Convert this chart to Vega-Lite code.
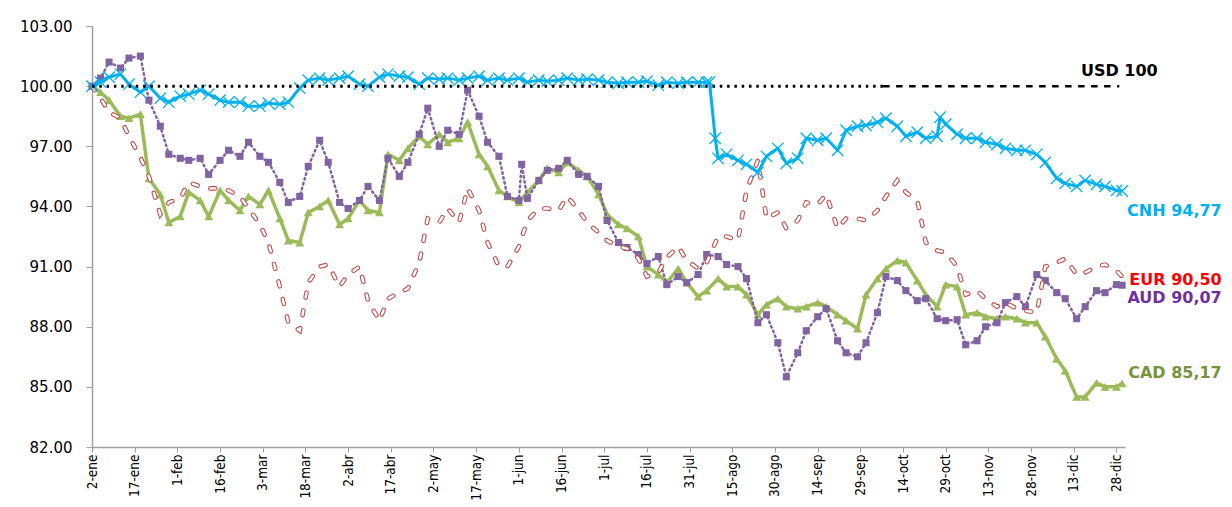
{
  "$schema": "https://vega.github.io/schema/vega-lite/v6.json",
  "autosize": "none",
  "width": 1033,
  "height": 421,
  "padding": {"left": 92, "top": 26, "right": 107, "bottom": 60},
  "background": "white",
  "config": {"view": {"stroke": null}, "axis": {"grid": false}},
  "data": {"values": [
    {"d":"2015-01-02","CNH":100,"EUR":100,"AUD":100,"CAD":100},
    {"d":"2015-01-05","CNH":100.2,"EUR":99.4,"AUD":100.4,"CAD":99.7},
    {"d":"2015-01-08","CNH":100.45,"EUR":98.7,"AUD":101.2,"CAD":99.3},
    {"d":"2015-01-12","CNH":100.6,"EUR":98.4,"AUD":100.9,"CAD":98.5},
    {"d":"2015-01-15","CNH":100.1,"EUR":97.5,"AUD":101.4,"CAD":98.4},
    {"d":"2015-01-19","CNH":99.7,"EUR":96.45,"AUD":101.5,"CAD":98.6},
    {"d":"2015-01-22","CNH":100.0,"EUR":95.5,"AUD":99.3,"CAD":95.4},
    {"d":"2015-01-26","CNH":99.4,"EUR":93.6,"AUD":98.0,"CAD":94.6},
    {"d":"2015-01-29","CNH":99.2,"EUR":94.2,"AUD":96.6,"CAD":93.2},
    {"d":"2015-02-02","CNH":99.5,"EUR":94.4,"AUD":96.4,"CAD":93.5},
    {"d":"2015-02-05","CNH":99.6,"EUR":95.2,"AUD":96.3,"CAD":94.7},
    {"d":"2015-02-09","CNH":99.8,"EUR":95.0,"AUD":96.4,"CAD":94.3},
    {"d":"2015-02-12","CNH":99.6,"EUR":94.9,"AUD":95.6,"CAD":93.5},
    {"d":"2015-02-16","CNH":99.3,"EUR":94.9,"AUD":96.3,"CAD":94.8},
    {"d":"2015-02-19","CNH":99.2,"EUR":94.8,"AUD":96.8,"CAD":94.3},
    {"d":"2015-02-23","CNH":99.2,"EUR":94.5,"AUD":96.5,"CAD":93.8},
    {"d":"2015-02-26","CNH":99.0,"EUR":93.9,"AUD":97.2,"CAD":94.5},
    {"d":"2015-03-02","CNH":99.0,"EUR":93.1,"AUD":96.5,"CAD":94.1},
    {"d":"2015-03-05","CNH":99.15,"EUR":92.2,"AUD":96.2,"CAD":94.8},
    {"d":"2015-03-09","CNH":99.1,"EUR":90.0,"AUD":95.2,"CAD":93.4},
    {"d":"2015-03-12","CNH":99.2,"EUR":88.2,"AUD":94.2,"CAD":92.3},
    {"d":"2015-03-16","CNH":99.9,"EUR":87.8,"AUD":94.5,"CAD":92.2},
    {"d":"2015-03-19","CNH":100.3,"EUR":90.2,"AUD":96.0,"CAD":93.7},
    {"d":"2015-03-23","CNH":100.4,"EUR":91.0,"AUD":97.3,"CAD":94.0},
    {"d":"2015-03-26","CNH":100.3,"EUR":91.1,"AUD":96.2,"CAD":94.3},
    {"d":"2015-03-30","CNH":100.4,"EUR":90.0,"AUD":94.2,"CAD":93.1},
    {"d":"2015-04-02","CNH":100.5,"EUR":90.6,"AUD":93.9,"CAD":93.4},
    {"d":"2015-04-06","CNH":100.1,"EUR":91.0,"AUD":94.3,"CAD":94.3},
    {"d":"2015-04-09","CNH":100.0,"EUR":89.3,"AUD":95.0,"CAD":93.8},
    {"d":"2015-04-13","CNH":100.45,"EUR":88.3,"AUD":94.3,"CAD":93.7},
    {"d":"2015-04-16","CNH":100.6,"EUR":89.4,"AUD":96.4,"CAD":96.6},
    {"d":"2015-04-20","CNH":100.5,"EUR":89.7,"AUD":95.5,"CAD":96.3},
    {"d":"2015-04-23","CNH":100.45,"EUR":89.9,"AUD":96.2,"CAD":96.9},
    {"d":"2015-04-27","CNH":100.1,"EUR":91.2,"AUD":97.6,"CAD":97.5},
    {"d":"2015-04-30","CNH":100.4,"EUR":93.4,"AUD":98.9,"CAD":97.1},
    {"d":"2015-05-04","CNH":100.35,"EUR":93.2,"AUD":97.0,"CAD":97.6},
    {"d":"2015-05-07","CNH":100.4,"EUR":93.9,"AUD":97.8,"CAD":97.2},
    {"d":"2015-05-11","CNH":100.3,"EUR":93.2,"AUD":97.6,"CAD":97.4},
    {"d":"2015-05-14","CNH":100.4,"EUR":94.9,"AUD":99.8,"CAD":98.2},
    {"d":"2015-05-18","CNH":100.5,"EUR":93.8,"AUD":98.5,"CAD":96.6},
    {"d":"2015-05-21","CNH":100.3,"EUR":92.2,"AUD":97.2,"CAD":96.0},
    {"d":"2015-05-25","CNH":100.4,"EUR":91.0,"AUD":96.5,"CAD":94.8},
    {"d":"2015-05-28","CNH":100.3,"EUR":91.0,"AUD":94.5,"CAD":94.5},
    {"d":"2015-06-01","CNH":100.4,"EUR":92.0,"AUD":94.3,"CAD":94.2},
    {"d":"2015-06-02","CNH":null,"EUR":null,"AUD":96.1,"CAD":null},
    {"d":"2015-06-04","CNH":100.2,"EUR":93.3,"AUD":94.4,"CAD":94.7},
    {"d":"2015-06-08","CNH":100.3,"EUR":93.9,"AUD":95.3,"CAD":95.3},
    {"d":"2015-06-11","CNH":100.25,"EUR":93.9,"AUD":95.8,"CAD":95.9},
    {"d":"2015-06-15","CNH":100.3,"EUR":93.8,"AUD":95.9,"CAD":95.7},
    {"d":"2015-06-18","CNH":100.4,"EUR":94.5,"AUD":96.3,"CAD":96.2},
    {"d":"2015-06-22","CNH":100.3,"EUR":93.8,"AUD":95.6,"CAD":95.8},
    {"d":"2015-06-25","CNH":100.35,"EUR":93.2,"AUD":95.5,"CAD":95.5},
    {"d":"2015-06-29","CNH":100.3,"EUR":92.7,"AUD":95.0,"CAD":94.6},
    {"d":"2015-07-02","CNH":100.2,"EUR":92.3,"AUD":93.3,"CAD":93.6},
    {"d":"2015-07-06","CNH":100.15,"EUR":92.0,"AUD":92.2,"CAD":93.1},
    {"d":"2015-07-09","CNH":100.2,"EUR":91.9,"AUD":91.95,"CAD":92.9},
    {"d":"2015-07-13","CNH":100.2,"EUR":91.4,"AUD":91.6,"CAD":92.5},
    {"d":"2015-07-16","CNH":100.25,"EUR":90.5,"AUD":91.15,"CAD":91.0},
    {"d":"2015-07-20","CNH":100.05,"EUR":90.7,"AUD":91.5,"CAD":90.6},
    {"d":"2015-07-23","CNH":100.2,"EUR":91.45,"AUD":90.1,"CAD":90.2},
    {"d":"2015-07-27","CNH":100.15,"EUR":92.0,"AUD":90.5,"CAD":90.9},
    {"d":"2015-07-30","CNH":100.2,"EUR":91.3,"AUD":90.2,"CAD":90.2},
    {"d":"2015-08-03","CNH":100.2,"EUR":90.9,"AUD":90.6,"CAD":89.5},
    {"d":"2015-08-06","CNH":100.2,"EUR":91.2,"AUD":91.6,"CAD":89.8},
    {"d":"2015-08-07","CNH":100.2,"EUR":null,"AUD":null,"CAD":null},
    {"d":"2015-08-09","CNH":97.4,"EUR":null,"AUD":null,"CAD":null},
    {"d":"2015-08-10","CNH":96.4,"EUR":92.5,"AUD":91.5,"CAD":90.4},
    {"d":"2015-08-13","CNH":96.6,"EUR":92.5,"AUD":91.1,"CAD":90.0},
    {"d":"2015-08-17","CNH":96.3,"EUR":92.3,"AUD":91.0,"CAD":90.0},
    {"d":"2015-08-20","CNH":96.1,"EUR":94.8,"AUD":90.4,"CAD":89.6},
    {"d":"2015-08-24","CNH":95.7,"EUR":96.3,"AUD":88.2,"CAD":88.6},
    {"d":"2015-08-27","CNH":96.5,"EUR":93.4,"AUD":88.6,"CAD":89.1},
    {"d":"2015-08-31","CNH":96.9,"EUR":93.7,"AUD":87.2,"CAD":89.4},
    {"d":"2015-09-03","CNH":96.15,"EUR":92.9,"AUD":85.5,"CAD":89.0},
    {"d":"2015-09-07","CNH":96.4,"EUR":93.3,"AUD":86.7,"CAD":88.9},
    {"d":"2015-09-10","CNH":97.4,"EUR":94.2,"AUD":87.8,"CAD":89.0},
    {"d":"2015-09-14","CNH":97.3,"EUR":94.1,"AUD":88.5,"CAD":89.2},
    {"d":"2015-09-17","CNH":97.4,"EUR":94.6,"AUD":88.9,"CAD":89.0},
    {"d":"2015-09-21","CNH":96.8,"EUR":92.9,"AUD":87.3,"CAD":88.6},
    {"d":"2015-09-24","CNH":97.8,"EUR":93.4,"AUD":86.7,"CAD":88.3},
    {"d":"2015-09-28","CNH":98.0,"EUR":93.4,"AUD":86.5,"CAD":87.9},
    {"d":"2015-10-01","CNH":98.05,"EUR":93.3,"AUD":87.2,"CAD":89.6},
    {"d":"2015-10-05","CNH":98.2,"EUR":93.8,"AUD":88.7,"CAD":90.4},
    {"d":"2015-10-08","CNH":98.4,"EUR":94.5,"AUD":90.5,"CAD":90.9},
    {"d":"2015-10-12","CNH":98.0,"EUR":95.3,"AUD":90.3,"CAD":91.3},
    {"d":"2015-10-15","CNH":97.5,"EUR":94.7,"AUD":89.8,"CAD":91.2},
    {"d":"2015-10-19","CNH":97.7,"EUR":94.3,"AUD":89.3,"CAD":90.3},
    {"d":"2015-10-22","CNH":97.4,"EUR":92.2,"AUD":89.4,"CAD":89.6},
    {"d":"2015-10-26","CNH":97.5,"EUR":91.8,"AUD":88.4,"CAD":89.0},
    {"d":"2015-10-27","CNH":98.45,"EUR":null,"AUD":null,"CAD":null},
    {"d":"2015-10-29","CNH":98.1,"EUR":91.7,"AUD":88.3,"CAD":90.1},
    {"d":"2015-11-02","CNH":97.6,"EUR":91.0,"AUD":88.35,"CAD":90.0},
    {"d":"2015-11-05","CNH":97.4,"EUR":89.6,"AUD":87.1,"CAD":88.6},
    {"d":"2015-11-09","CNH":97.4,"EUR":89.8,"AUD":87.3,"CAD":88.7},
    {"d":"2015-11-12","CNH":97.2,"EUR":89.4,"AUD":88.0,"CAD":88.5},
    {"d":"2015-11-16","CNH":97.1,"EUR":89.0,"AUD":88.2,"CAD":88.4},
    {"d":"2015-11-19","CNH":96.9,"EUR":89.2,"AUD":89.2,"CAD":88.5},
    {"d":"2015-11-23","CNH":96.8,"EUR":88.9,"AUD":89.5,"CAD":88.4},
    {"d":"2015-11-26","CNH":96.8,"EUR":88.8,"AUD":89.0,"CAD":88.2},
    {"d":"2015-11-30","CNH":96.6,"EUR":88.7,"AUD":90.6,"CAD":88.2},
    {"d":"2015-12-03","CNH":96.2,"EUR":91.0,"AUD":90.3,"CAD":87.5},
    {"d":"2015-12-07","CNH":95.4,"EUR":91.2,"AUD":89.7,"CAD":86.4},
    {"d":"2015-12-10","CNH":95.15,"EUR":91.4,"AUD":89.4,"CAD":85.8},
    {"d":"2015-12-14","CNH":95.0,"EUR":90.6,"AUD":88.4,"CAD":84.5},
    {"d":"2015-12-17","CNH":95.3,"EUR":90.7,"AUD":89.0,"CAD":84.5},
    {"d":"2015-12-21","CNH":95.1,"EUR":91.0,"AUD":89.8,"CAD":85.2},
    {"d":"2015-12-24","CNH":95.0,"EUR":91.1,"AUD":89.7,"CAD":85.0},
    {"d":"2015-12-28","CNH":94.8,"EUR":90.8,"AUD":90.1,"CAD":85.0},
    {"d":"2015-12-30","CNH":94.77,"EUR":90.5,"AUD":90.07,"CAD":85.17}
  ]},
  "encoding": {
    "x": {
      "field": "d", "type": "temporal",
      "scale": {"type": "utc", "domain": [{"year": 2015, "month": 1, "date": 2, "utc": true}, {"year": 2015, "month": 12, "date": 31, "utc": true}]},
      "axis": {
        "title": null,
        "values": [
          {"year":2015,"month":1,"date":2,"utc":true},{"year":2015,"month":1,"date":17,"utc":true},
          {"year":2015,"month":2,"date":1,"utc":true},{"year":2015,"month":2,"date":16,"utc":true},
          {"year":2015,"month":3,"date":3,"utc":true},{"year":2015,"month":3,"date":18,"utc":true},
          {"year":2015,"month":4,"date":2,"utc":true},{"year":2015,"month":4,"date":17,"utc":true},
          {"year":2015,"month":5,"date":2,"utc":true},{"year":2015,"month":5,"date":17,"utc":true},
          {"year":2015,"month":6,"date":1,"utc":true},{"year":2015,"month":6,"date":16,"utc":true},
          {"year":2015,"month":7,"date":1,"utc":true},{"year":2015,"month":7,"date":16,"utc":true},
          {"year":2015,"month":7,"date":31,"utc":true},{"year":2015,"month":8,"date":15,"utc":true},
          {"year":2015,"month":8,"date":30,"utc":true},{"year":2015,"month":9,"date":14,"utc":true},
          {"year":2015,"month":9,"date":29,"utc":true},{"year":2015,"month":10,"date":14,"utc":true},
          {"year":2015,"month":10,"date":29,"utc":true},{"year":2015,"month":11,"date":13,"utc":true},
          {"year":2015,"month":11,"date":28,"utc":true},{"year":2015,"month":12,"date":13,"utc":true},
          {"year":2015,"month":12,"date":28,"utc":true}
        ],
        "labelExpr": "utcdate(datum.value) + '-' + ['ene','feb','mar','abr','may','jun','jul','ago','sep','oct','nov','dic'][utcmonth(datum.value)]",
        "labelAngle": 270,
        "labelAlign": "right",
        "labelBaseline": "middle",
        "labelFont": "Liberation Sans Narrow, DejaVu Sans Condensed, sans-serif",
        "labelFontSize": 13.5,
        "labelColor": "#000000",
        "labelPadding": 2,
        "tickSize": 5,
        "tickColor": "#A0A0A0",
        "domainColor": "#A0A0A0",
        "domainWidth": 1.5,
        "labelOverlap": false,
        "labelBound": false,
        "labelFlush": false
      }
    }
  },
  "layer": [
    {
      "transform": [{"filter": "isValid(datum.CAD)"}],
      "mark": {"type": "line", "color": "#9BBB59", "strokeWidth": 3.5, "strokeJoin": "round"},
      "encoding": {
        "y": {
          "field": "CAD", "type": "quantitative",
          "scale": {"domain": [82, 103], "nice": false, "zero": false},
          "axis": {
            "title": null,
            "values": [82, 85, 88, 91, 94, 97, 100, 103],
            "format": ".2f",
            "labelFont": "DejaVu Sans",
            "labelFontSize": 15,
            "labelColor": "#000000",
            "labelPadding": 14,
            "tickSize": 6,
            "tickColor": "#A0A0A0",
            "domainColor": "#A0A0A0",
            "domainWidth": 1.5
          }
        }
      }
    },
    {
      "transform": [{"filter": "isValid(datum.CAD)"}],
      "mark": {"type": "point", "shape": "triangle-up", "filled": true, "color": "#9BBB59", "size": 80, "opacity": 1},
      "encoding": {"y": {"field": "CAD", "type": "quantitative"}}
    },
    {
      "transform": [{"filter": "isValid(datum.AUD)"}],
      "mark": {"type": "line", "color": "#8064A2", "strokeWidth": 2.5, "strokeDash": [1.5, 3.5], "strokeCap": "round"},
      "encoding": {"y": {"field": "AUD", "type": "quantitative"}}
    },
    {
      "transform": [{"filter": "isValid(datum.AUD)"}],
      "mark": {"type": "point", "shape": "square", "filled": true, "color": "#8064A2", "size": 50, "opacity": 1},
      "encoding": {"y": {"field": "AUD", "type": "quantitative"}}
    },
    {
      "transform": [{"filter": "isValid(datum.EUR)"}],
      "mark": {"type": "line", "color": "#C0504D", "strokeWidth": 4.6, "strokeDash": [5, 13], "strokeCap": "round"},
      "encoding": {"y": {"field": "EUR", "type": "quantitative"}}
    },
    {
      "transform": [{"filter": "isValid(datum.EUR)"}],
      "mark": {"type": "line", "color": "#FFFFFF", "strokeWidth": 2.4, "strokeDash": [5, 13], "strokeCap": "round"},
      "encoding": {"y": {"field": "EUR", "type": "quantitative"}}
    },
    {
      "transform": [{"filter": "isValid(datum.CNH)"}],
      "mark": {"type": "line", "color": "#00B0F0", "strokeWidth": 3, "strokeJoin": "round"},
      "encoding": {"y": {"field": "CNH", "type": "quantitative"}}
    },
    {
      "transform": [{"filter": "isValid(datum.CNH)"}],
      "mark": {"type": "point", "shape": "M-1,-1L1,1M-1,1L1,-1", "filled": false, "stroke": "#00B0F0", "strokeWidth": 1.3, "size": 130, "opacity": 1},
      "encoding": {"y": {"field": "CNH", "type": "quantitative"}}
    },
    {
      "data": {"values": [
        {"d": "2015-01-02", "d2": "2015-10-07", "v": 100}
      ]},
      "mark": {"type": "rule", "color": "#000000", "strokeWidth": 3, "strokeDash": [2.5, 4.8]},
      "encoding": {"x2": {"field": "d2"}, "y": {"field": "v", "type": "quantitative"}}
    },
    {
      "data": {"values": [
        {"d": "2015-10-07", "d2": "2015-12-29", "v": 100}
      ]},
      "mark": {"type": "rule", "color": "#000000", "strokeWidth": 2.5, "strokeDash": [6.5, 6.5]},
      "encoding": {"x2": {"field": "d2"}, "y": {"field": "v", "type": "quantitative"}}
    },
    {
      "data": {"values": [
        {"d": "2015-12-29", "v": 100.75, "t": "USD 100", "c": "#000000"}
      ]},
      "mark": {"type": "text", "align": "center", "baseline": "middle", "font": "DejaVu Sans", "fontWeight": "bold", "fontSize": 16},
      "encoding": {"y": {"field": "v", "type": "quantitative"}, "text": {"field": "t"}, "color": {"field": "c", "type": "nominal", "scale": null}}
    },
    {
      "data": {"values": [
        {"d": "2016-02-03", "v": 93.77, "t": "CNH 94,77", "c": "#00B0F0"},
        {"d": "2016-02-03", "v": 90.32, "t": "EUR 90,50", "c": "#FF0000"},
        {"d": "2016-02-03", "v": 89.43, "t": "AUD 90,07", "c": "#7030A0"},
        {"d": "2016-02-03", "v": 85.69, "t": "CAD 85,17", "c": "#77933C"}
      ]},
      "mark": {"type": "text", "align": "right", "baseline": "middle", "font": "DejaVu Sans", "fontWeight": "bold", "fontSize": 16, "clip": false},
      "encoding": {"y": {"field": "v", "type": "quantitative"}, "text": {"field": "t"}, "color": {"field": "c", "type": "nominal", "scale": null}}
    }
  ]
}
